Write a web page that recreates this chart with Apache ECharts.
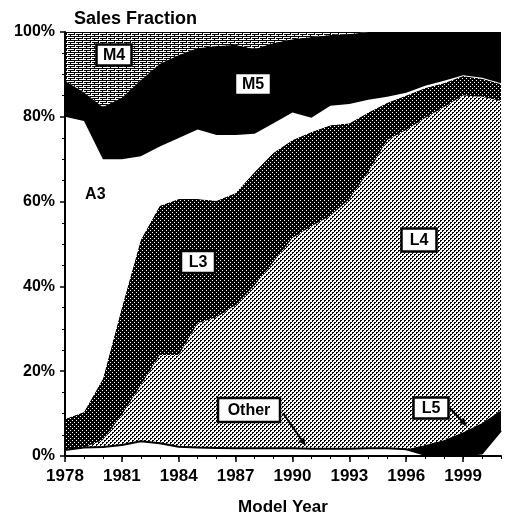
<!DOCTYPE html>
<html>
<head>
<meta charset="utf-8">
<script src="https://cdn.jsdelivr.net/npm/echarts@6/dist/echarts.min.js"></script>
<style>
html,body{margin:0;padding:0;background:#fff;}
#chart{width:505px;height:521px;}
</style>
</head>
<body>
<div id="chart"></div>
<script>
// model years
const years = ['1978','1979','1980','1981','1982','1983','1984','1985','1986','1987','1988','1989',
               '1990','1991','1992','1993','1994','1995','1996','1997','1998','1999','2000','2001'];
// sales fraction (%) per class, bottom of stack first
const other = [1.4,2.0,2.1,2.6,3.5,3.0,2.2,2.0,1.9,1.8,1.8,1.8,1.8,1.7,1.7,1.7,1.8,1.8,1.6,0.3,0.2,0.2,0.6,6.0];
const l5    = [0,0,0,0,0,0,0,0,0,0,0,0,0,0,0,0,0,0,0,2.3,3.6,5.4,7.2,4.8];
const l4    = [0,0,1.7,7.1,13.2,20.8,21.6,29.3,30.8,33.8,38.5,44.0,49.6,52.5,54.9,58.9,65.2,72.7,75.3,77.1,78.5,79.4,76.9,72.9];
const l3    = [7.3,8.4,14.4,25.3,34.3,35.2,36.8,29.3,27.5,26.4,26.7,25.7,23.1,22.2,21.4,17.9,14.0,8.8,8.1,7.1,5.7,4.6,4.3,4.0];
const a3    = [71.3,68.6,51.8,35.0,19.7,14.0,14.4,16.4,15.5,13.7,9.0,7.0,6.5,3.4,4.6,4.5,3.0,1.4,0.7,0.5,0.5,0.2,0.2,0.2];
const m5    = [8.5,6.8,12.3,14.5,18.0,19.5,19.6,19.2,21.0,21.3,20.0,18.9,17.3,19.0,16.7,16.5,16.0,15.3,14.3,12.7,11.5,10.2,10.8,12.1];
const m4    = [11.5,14.2,17.7,15.5,11.3,7.5,5.4,3.8,3.3,3.0,4.0,2.6,1.7,1.2,0.7,0.5,0,0,0,0,0,0,0,0];

const yTicks = [0,20,40,60,80,100];

// annotation labels placed in data space [year, percent]
const boxLabels = [
  {text:'M4', at:[1980.6, 94.6], w:35, h:21},
  {text:'M5', at:[1987.9, 87.7], w:36, h:22},
  {text:'L3', at:[1985.0, 45.8], w:34, h:22},
  {text:'L4', at:[1996.7, 51.0], w:35, h:23},
  {text:'Other', at:[1987.7, 10.8], w:62, h:24},
  {text:'L5', at:[1997.3, 11.3], w:35, h:21}
];
const plainLabels = [{text:'A3', at:[1979.6, 61.6]}];
const arrows = [
  {from:[1989.5, 10.1], to:[1990.7, 2.4]},
  {from:[1998.3, 11.3], to:[1999.2, 7.0]}
];

function pattern(w, h, bg, fg, px) {
  const c = document.createElement('canvas');
  c.width = w; c.height = h;
  const g = c.getContext('2d');
  g.fillStyle = bg; g.fillRect(0, 0, w, h);
  g.fillStyle = fg;
  px.forEach(p => g.fillRect(p[0], p[1], 1, 1));
  return {image: c, repeat: 'repeat'};
}

const lightDots = pattern(4, 4, '#fff', '#000', [[0,0],[1,0],[0,1],[2,2],[3,2],[2,3]]);
const darkDots  = pattern(4, 4, '#000', '#fff', [[0,0],[2,2]]);
const hatch = pattern(8, 4, '#fff', '#000',
  [[0,0],[1,0],[2,0],[3,0],[4,0],[5,0],[6,0],[7,0],
   [0,2],[1,2],[2,2],[4,2],[5,2],[6,2],[7,2],[6,3],[2,1]]);

function area(name, vals, fill, line) {
  return {
    name: name,
    type: 'line',
    stack: 'total',
    xAxisIndex: 0,
    data: vals,
    symbol: 'none',
    silent: true,
    lineStyle: line || {width: 0},
    areaStyle: {color: fill, opacity: 1}
  };
}

const font = '"Liberation Sans", Arial, sans-serif';
const chart = echarts.init(document.getElementById('chart'));

chart.setOption({
  animation: false,
  backgroundColor: '#fff',
  title: {
    text: 'Sales Fraction',
    left: 69, top: 5,
    textStyle: {fontFamily: font, fontSize: 18, fontWeight: 'bold', color: '#000'}
  },
  grid: {left: 65, right: 4, top: 32, bottom: 65, outerBoundsMode: 'none', containLabel: false},
  xAxis: [{
    type: 'category',
    data: years,
    boundaryGap: false,
    name: 'Model Year', nameLocation: 'middle', nameGap: 43,
    nameTextStyle: {fontFamily: font, fontSize: 17, fontWeight: 'bold', color: '#000'},
    axisLine: {show: true, onZero: false, lineStyle: {color: '#000', width: 2}},
    axisTick: {show: true, interval: 0, length: 3, lineStyle: {color: '#000', width: 1}},
    splitLine: {show: false},
    axisLabel: {
      interval: i => i % 3 === 0, hideOverlap: false,
      margin: 12, color: '#000', fontFamily: font, fontSize: 17, fontWeight: 'bold'
    },
    z: 10
  }, {
    // longer ticks every third year
    type: 'category',
    data: years,
    boundaryGap: false,
    position: 'bottom',
    axisLine: {show: false},
    axisTick: {show: true, interval: 2, length: 6, lineStyle: {color: '#000', width: 1.5}},
    axisLabel: {show: false},
    splitLine: {show: false},
    z: 10
  }],
  yAxis: {
    type: 'value',
    min: yTicks[0], max: yTicks[yTicks.length - 1], interval: 20,
    axisLine: {show: true, lineStyle: {color: '#000', width: 2}},
    axisTick: {show: true, length: 5, lineStyle: {color: '#000', width: 1.5}},
    minorTick: {show: true, splitNumber: 4, length: 3, lineStyle: {color: '#000', width: 1}},
    splitLine: {show: false},
    axisLabel: {margin: 10, color: '#000', fontFamily: font, fontSize: 16, fontWeight: 'bold', formatter: '{value}%'},
    z: 10
  },
  series: [
    area('Other', other, '#fff', {width: 2, color: '#000'}),
    area('L5', l5, '#000'),
    area('L4', l4, lightDots),
    area('L3', l3, darkDots),
    area('A3', a3, '#fff'),
    area('M5', m5, '#000'),
    area('M4', m4, hatch)
  ]
});

// pixel position from [year, percent], year may be fractional
const grid = chart.getModel().getComponent('grid', 0).coordinateSystem.getRect();
function toPx(p) {
  const a = chart.convertToPixel({xAxisIndex: 0, yAxisIndex: 0}, [0, p[1]]);
  const step = grid.width / (years.length - 1);
  return [grid.x + (p[0] - Number(years[0])) * step, a[1]];
}
const graphics = [];
boxLabels.forEach(b => {
  const c = toPx(b.at);
  const x = Math.round(c[0]), y = Math.round(c[1]);
  graphics.push({type: 'rect', z: 100,
    shape: {x: x - b.w / 2, y: y - b.h / 2, width: b.w, height: b.h},
    style: {fill: '#fff', stroke: '#000', lineWidth: 2.5}});
  graphics.push({type: 'text', z: 101, x: x, y: y + 1,
    style: {text: b.text, align: 'center', verticalAlign: 'middle', fill: '#000', font: 'bold 16px ' + font}});
});
plainLabels.forEach(b => {
  const c = toPx(b.at);
  graphics.push({type: 'text', x: c[0], y: c[1], z: 100,
    style: {text: b.text, align: 'center', verticalAlign: 'middle', fill: '#000', font: 'bold 16px ' + font}});
});
arrows.forEach(a => {
  const s = toPx(a.from), e = toPx(a.to);
  const ang = Math.atan2(e[1] - s[1], e[0] - s[0]);
  const len = 8, wid = 3.5;
  const bx = e[0] - len * Math.cos(ang), by = e[1] - len * Math.sin(ang);
  graphics.push({type: 'polyline', z: 100, shape: {points: [s, [bx, by]]},
    style: {stroke: '#000', lineWidth: 2}});
  graphics.push({type: 'polygon', z: 100, shape: {points: [
      e,
      [bx + wid * Math.sin(ang), by - wid * Math.cos(ang)],
      [bx - wid * Math.sin(ang), by + wid * Math.cos(ang)]
    ]}, style: {fill: '#000'}});
});
chart.setOption({graphic: graphics});
</script>
</body>
</html>
